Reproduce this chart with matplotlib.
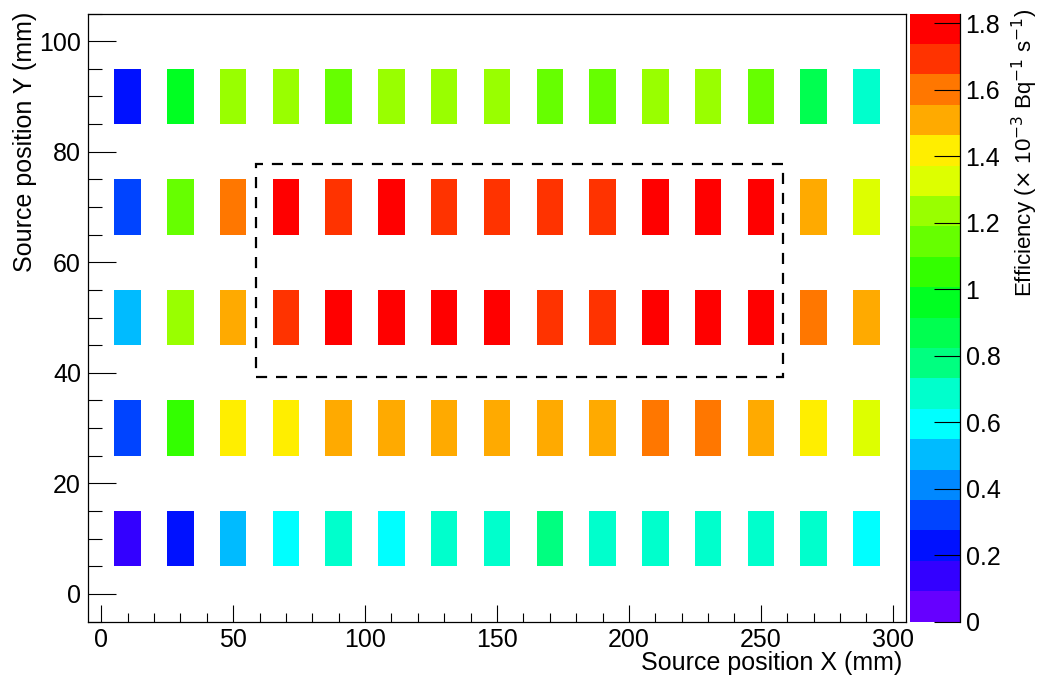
import numpy as np
import matplotlib
matplotlib.use("Agg")
import matplotlib.pyplot as plt
from matplotlib.colors import ListedColormap, BoundaryNorm
from matplotlib.patches import Rectangle
from matplotlib.ticker import MultipleLocator

plt.rcParams["font.family"] = ["Liberation Sans", "DejaVu Sans"]

# Source positions (mm), cell centres
x_pos = [10, 30, 50, 70, 90, 110, 130, 150, 170, 190, 210, 230, 250, 270, 290]
y_pos = [10, 30, 50, 70, 90]

# Efficiency (x 10^-3 Bq^-1 s^-1) per row
eff_y10 = [0.14, 0.23, 0.51, 0.60, 0.69, 0.60, 0.69, 0.69, 0.79, 0.69, 0.69, 0.69, 0.69, 0.69, 0.60]
eff_y30 = [0.32, 1.06, 1.43, 1.43, 1.53, 1.53, 1.53, 1.53, 1.53, 1.53, 1.62, 1.62, 1.53, 1.43, 1.34]
eff_y50 = [0.51, 1.25, 1.53, 1.71, 1.80, 1.80, 1.80, 1.80, 1.71, 1.71, 1.80, 1.80, 1.80, 1.62, 1.53]
eff_y70 = [0.32, 1.16, 1.62, 1.80, 1.71, 1.80, 1.71, 1.71, 1.71, 1.71, 1.80, 1.80, 1.80, 1.53, 1.34]
eff_y90 = [0.23, 0.97, 1.25, 1.25, 1.16, 1.25, 1.25, 1.25, 1.16, 1.16, 1.25, 1.25, 1.16, 0.88, 0.69]

# 20-level rainbow palette
palette = ["#6600ff", "#3300ff", "#0011ff", "#0044ff", "#0088ff",
           "#00bbff", "#00ffff", "#00ffcc", "#00ff80", "#00ff50",
           "#00ff22", "#33ff00", "#66ff00", "#99ff00", "#ddff00",
           "#ffee00", "#ffaa00", "#ff7700", "#ff3300", "#ff0000"]
z_max = 1.83

rows = [eff_y10, eff_y30, eff_y50, eff_y70, eff_y90]

# histogram grid: 10 mm bins from -5 to 305 / -5 to 105
x_edges = np.arange(-5, 306, 10)
y_edges = np.arange(-5, 106, 10)
grid = np.full((len(y_edges) - 1, len(x_edges) - 1), np.nan)
for yv, row in zip(y_pos, rows):
    for xv, val in zip(x_pos, row):
        i = np.searchsorted(y_edges, yv) - 1
        j = np.searchsorted(x_edges, xv) - 1
        grid[i, j] = val

cmap = ListedColormap(palette)
norm = BoundaryNorm(np.linspace(0, z_max, len(palette) + 1), cmap.N)

fig = plt.figure(figsize=(10.4, 6.75), dpi=100)
ax = fig.add_axes([88 / 1040, 1 - 621.5 / 675, 818 / 1040, 608 / 675])
cax = fig.add_axes([910 / 1040, 1 - 621.5 / 675, 50 / 1040, 608 / 675])

mesh = ax.pcolormesh(x_edges, y_edges, np.ma.masked_invalid(grid),
                     cmap=cmap, norm=norm)

# selected region
ax.add_patch(Rectangle((58.5, 39.2), 200, 38.5, fill=False, ec="black",
                       lw=1.6, ls=(0, (5, 4))))

ax.set_xlim(-5, 305)
ax.set_ylim(-5, 105)
ax.xaxis.set_major_locator(MultipleLocator(50))
ax.xaxis.set_minor_locator(MultipleLocator(10))
ax.yaxis.set_major_locator(MultipleLocator(20))
ax.yaxis.set_minor_locator(MultipleLocator(5))
ax.tick_params(axis="both", which="both", direction="in", width=0.8,
               labelsize=18, top=False, right=False)
ax.tick_params(axis="x", which="major", length=12, pad=5)
ax.tick_params(axis="x", which="minor", length=6.5)
ax.tick_params(axis="y", which="major", length=20, pad=5)
ax.tick_params(axis="y", which="minor", length=10)
for s in ax.spines.values():
    s.set_linewidth(0.9)

fig.text(902 / 1040, 1 - 670 / 675, "Source position X (mm)", ha="right",
         va="baseline", fontsize=18)
fig.text(25 / 1040, 1 - 12 / 675, "Source position Y (mm)", ha="center",
         va="top", rotation=90, fontsize=18)

cbar = fig.colorbar(mesh, cax=cax, ticks=np.arange(0, 1.81, 0.2))
cbar.outline.set_visible(False)
cax.spines["right"].set_visible(True)
cax.spines["right"].set_linewidth(0.9)
cax.set_yticklabels(["0", "0.2", "0.4", "0.6", "0.8", "1", "1.2", "1.4", "1.6", "1.8"])
cax.tick_params(axis="y", which="major", direction="in", length=19, width=0.8,
                labelsize=18, pad=4)
cax.tick_params(axis="y", which="minor", length=0)
fig.text(1025 / 1040, 1 - 9 / 675,
         r"Efficiency ($\times$ 10$^{-3}$ Bq$^{-1}$ s$^{-1}$)", ha="center",
         va="top", rotation=90, fontsize=16)

fig.savefig("out.png", dpi=100)
